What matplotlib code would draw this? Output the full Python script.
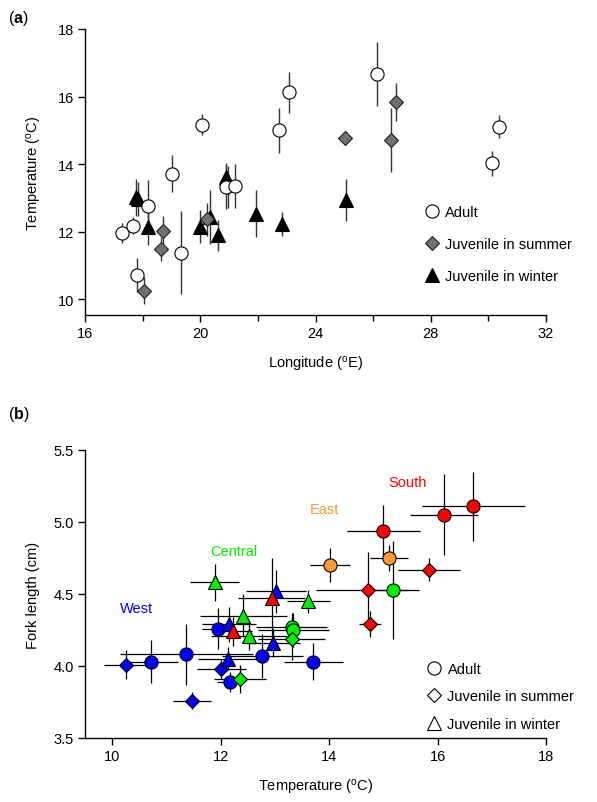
import matplotlib
matplotlib.use('Agg')
import matplotlib.pyplot as plt
from matplotlib.lines import Line2D

plt.rcParams['font.family'] = ['Liberation Sans', 'DejaVu Sans']
plt.rcParams['mathtext.fontset'] = 'custom'
plt.rcParams['mathtext.rm'] = 'Liberation Sans'
plt.rcParams['mathtext.bf'] = 'Liberation Sans:bold'
plt.rcParams['mathtext.it'] = 'Liberation Sans:italic'

# ---------------- data ----------------
# Adults
ad_lon = [17.28, 17.65, 17.82, 18.20, 19.03, 19.34, 20.07, 20.88, 21.20, 22.74, 23.09, 26.13, 30.37, 30.14]
ad_temp = [11.96, 12.18, 10.72, 12.77, 13.71, 11.37, 15.17, 13.31, 13.34, 15.00, 16.12, 16.66, 15.11, 14.02]
ad_temp_sd = [0.30, 0.25, 0.50, 0.75, 0.55, 1.23, 0.30, 0.65, 0.65, 0.67, 0.62, 0.95, 0.35, 0.37]
ad_fl = [4.26, 3.89, 4.03, 4.07, 4.03, 4.08, 4.53, 4.27, 4.25, 4.94, 5.05, 5.11, 4.75, 4.70]
ad_fl_sd = [0.14, 0.07, 0.15, 0.15, 0.13, 0.21, 0.34, 0.10, 0.12, 0.18, 0.28, 0.24, 0.09, 0.12]
ad_region = ['West'] * 6 + ['Central'] * 3 + ['South'] * 3 + ['East'] * 2

# Juveniles in summer
su_lon = [18.05, 18.63, 18.71, 20.23, 20.95, 25.03, 26.81, 26.63]
su_temp = [10.25, 11.48, 12.01, 12.36, 13.31, 14.76, 15.84, 14.71]
su_temp_sd = [0.40, 0.35, 0.45, 0.48, 0.62, 0.20, 0.57, 0.95]
su_fl = [4.01, 3.76, 3.98, 3.91, 4.19, 4.29, 4.67, 4.53]
su_fl_sd = [0.10, 0.06, 0.07, 0.10, 0.15, 0.09, 0.08, 0.26]
su_region = ['West'] * 3 + ['Central'] * 2 + ['South'] * 3

# Juveniles in winter
wi_lon = [17.78, 17.84, 18.19, 19.98, 20.35, 20.63, 20.90, 21.92, 22.84, 25.05]
wi_temp = [13.02, 12.96, 12.14, 12.15, 12.42, 11.89, 13.62, 12.53, 12.22, 12.94]
wi_temp_sd = [0.55, 0.50, 0.55, 0.50, 0.80, 0.45, 0.40, 0.70, 0.35, 0.62]
wi_fl = [4.52, 4.16, 4.05, 4.29, 4.35, 4.58, 4.45, 4.21, 4.24, 4.47]
wi_fl_sd = [0.15, 0.10, 0.08, 0.12, 0.15, 0.13, 0.08, 0.10, 0.10, 0.28]
wi_region = ['West'] * 4 + ['Central'] * 4 + ['South'] * 2

region_names = ['West', 'Central', 'East', 'South']
region_label_x = [10.45, 12.25, 13.92, 15.45]
region_label_y = [4.40, 4.80, 5.09, 5.28]
region_colors = {'West': '#0000ff', 'Central': '#00ee00', 'East': '#ff9933', 'South': '#ff0000'}

stage_labels = ['Adult', 'Juvenile in summer', 'Juvenile in winter']

# ---------------- figure ----------------
W, H = 597, 803
fig = plt.figure(figsize=(W / 100, H / 100), dpi=100)
axa = fig.add_axes([85 / W, 1 - 316 / H, 461 / W, 286 / H])
axb = fig.add_axes([85 / W, 1 - 739 / H, 461 / W, 288 / H])

FS = 10.5

def style_axes(ax):
    for s in ['top', 'right']:
        ax.spines[s].set_visible(False)
    for s in ['left', 'bottom']:
        ax.spines[s].set_linewidth(1.0)
    ax.tick_params(which='major', direction='out', length=5, width=1, labelsize=FS, pad=3)
    ax.tick_params(which='minor', direction='out', length=4, width=1)

# ---------- panel (a) ----------
ecol_a = '#333333'
axa.errorbar(ad_lon, ad_temp, yerr=ad_temp_sd, fmt='none', ecolor=ecol_a, elinewidth=1, capsize=0, zorder=1)
axa.errorbar(su_lon, su_temp, yerr=su_temp_sd, fmt='none', ecolor=ecol_a, elinewidth=1, capsize=0, zorder=1)
axa.errorbar(wi_lon, wi_temp, yerr=wi_temp_sd, fmt='none', ecolor=ecol_a, elinewidth=1, capsize=0, zorder=1)
axa.plot(wi_lon, wi_temp, ls='none', marker='^', ms=10, mfc='black', mec='black', mew=0.8, zorder=3)
axa.plot(su_lon, su_temp, ls='none', marker='D', ms=7.5, mfc='#707070', mec='#222222', mew=0.8, zorder=3)
axa.plot(ad_lon, ad_temp, ls='none', marker='o', ms=9.5, mfc='white', mec='black', mew=0.8, zorder=4)

axa.set_xlim(16, 32)
axa.set_ylim(9.53, 18)
axa.set_xticks([16, 20, 24, 28, 32])
axa.set_xticks([18, 22, 26, 30], minor=True)
axa.set_yticks([10, 12, 14, 16, 18])
style_axes(axa)
axa.set_xlabel(r'Longitude ($^{\mathrm{o}}$E)', fontsize=FS, labelpad=10)
axa.set_ylabel(r'Temperature ($^{\mathrm{o}}$C)', fontsize=FS, labelpad=10)

hand_a = [Line2D([], [], ls='none', marker='o', ms=9.5, mfc='white', mec='black', mew=0.8),
          Line2D([], [], ls='none', marker='D', ms=7.5, mfc='#707070', mec='#222222', mew=0.8),
          Line2D([], [], ls='none', marker='^', ms=10, mfc='black', mec='black', mew=0.8)]
axa.legend(hand_a, stage_labels, loc='upper left', bbox_to_anchor=(0.736, 0.385), frameon=False,
           fontsize=FS, handlelength=1.0, handletextpad=0.4, labelspacing=1.25,
           borderpad=0, borderaxespad=0)

fig.text(8 / W, 1 - 18 / H, r'($\mathbf{a}$)', fontsize=11.5, va='center', ha='left')

# ---------- panel (b) ----------
groups = [
    (ad_temp, ad_temp_sd, ad_fl, ad_fl_sd, ad_region, 'o', 9.5),
    (su_temp, su_temp_sd, su_fl, su_fl_sd, su_region, 'D', 7.5),
    (wi_temp, wi_temp_sd, wi_fl, wi_fl_sd, wi_region, '^', 10),
]
for t, tsd, fl, flsd, reg, mk, ms in groups:
    axb.errorbar(t, fl, xerr=tsd, yerr=flsd, fmt='none', ecolor='black', elinewidth=0.9, capsize=0, zorder=1)
for t, tsd, fl, flsd, reg, mk, ms in groups:
    for xi, yi, ri in zip(t, fl, reg):
        axb.plot([xi], [yi], ls='none', marker=mk, ms=ms, mfc=region_colors[ri], mec='black', mew=0.8, zorder=3)

for name, lx, ly in zip(region_names, region_label_x, region_label_y):
    axb.text(lx, ly, name, color=region_colors[name], fontsize=FS, ha='center', va='center')

axb.set_xlim(9.5, 18)
axb.set_ylim(3.5, 5.5)
axb.set_xticks([10, 12, 14, 16, 18])
axb.set_yticks([3.5, 4.0, 4.5, 5.0, 5.5])
axb.set_yticklabels(['3.5', '4.0', '4.5', '5.0', '5.5'])
style_axes(axb)
axb.set_xlabel(r'Temperature ($^{\mathrm{o}}$C)', fontsize=FS, labelpad=10)
axb.set_ylabel('Fork length (cm)', fontsize=FS, labelpad=10)

hand_b = [Line2D([], [], ls='none', marker='o', ms=9.5, mfc='white', mec='black', mew=0.8),
          Line2D([], [], ls='none', marker='D', ms=7.5, mfc='white', mec='black', mew=0.8),
          Line2D([], [], ls='none', marker='^', ms=10, mfc='white', mec='black', mew=0.8)]
axb.legend(hand_b, stage_labels, loc='upper left', bbox_to_anchor=(0.742, 0.264), frameon=False,
           fontsize=FS, handlelength=1.0, handletextpad=0.4, labelspacing=0.92,
           borderpad=0, borderaxespad=0)

fig.text(8 / W, 1 - 415 / H, r'($\mathbf{b}$)', fontsize=11.5, va='center', ha='left')

fig.savefig('out.png', dpi=100)
